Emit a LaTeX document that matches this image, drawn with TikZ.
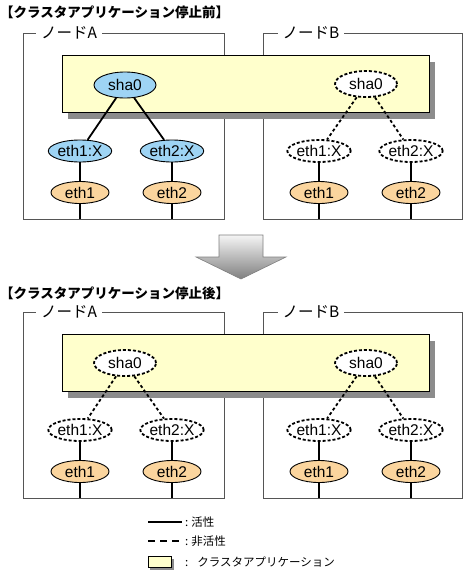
\documentclass[tikz,border=0pt]{standalone}
\usepackage{fontspec}
\setmainfont{Liberation Sans}
\newfontfamily\jp{Noto Sans CJK JP}
\usetikzlibrary{shapes.geometric}
\definecolor{actblue}{HTML}{9ED4F4}
\definecolor{ethorange}{HTML}{FBD59E}
\definecolor{appyellow}{HTML}{FFFFCC}
\definecolor{shadowgray}{HTML}{8C8C8C}
\definecolor{boxgray}{HTML}{555555}
\tikzset{
  ifbase/.style={ellipse, draw=black, line width=0.9pt, minimum width=58pt, minimum height=22pt, inner sep=0pt, font=\fontsize{15.5}{15.5}\selectfont},
  shanode/.style={ifbase, minimum width=62pt, minimum height=26pt},
  actfill/.style={fill=actblue},
  inact/.style={fill=white, line width=1.8pt, dash pattern=on 3pt off 2pt},
  ethnode/.style={ifbase, fill=ethorange},
  solidcon/.style={line width=1.8pt},
  dashcon/.style={line width=1.8pt, dash pattern=on 3pt off 2.5pt},
  nodebox/.style={draw=boxgray, line width=1pt},
  boxlabel/.style={fill=white, inner xsep=5pt, inner ysep=1pt, font=\jp\fontsize{15.5}{15.5}\selectfont},
  titletext/.style={anchor=west, inner sep=0pt, font=\jp\bfseries\fontsize{13.5}{13.5}\selectfont},
  appbox/.style={draw=black, line width=1pt, fill=appyellow},
  appshadow/.style={fill=shadowgray},
  legtext/.style={anchor=west, inner sep=0pt, font=\jp\fontsize{11.5}{11.5}\selectfont},
}
\begin{document}
\begin{tikzpicture}[x=1pt,y=-1pt]
\useasboundingbox (0,0) rectangle (465,570);
% ---------- before ----------
\begin{scope}[name prefix=t-]
\node[titletext] (title) at (0,12) {【クラスタアプリケーション停止前】};
\draw[nodebox] (23,33) rectangle (224,219);
\draw[nodebox] (263,33) rectangle (462,219);
\node[boxlabel] (la) at (69,33) {ノードA};
\node[boxlabel] (lb) at (311,33) {ノードB};
\fill[appshadow] (68,62) rectangle (435,119);
\draw[appbox] (62,55) rectangle (429,112);
\node[shanode, actfill] (shaA) at (125,85) {sha0};
\node[ifbase, actfill] (x1A) at (80,151) {eth1:X};
\node[ifbase, actfill] (x2A) at (172,151) {eth2:X};
\node[ethnode] (e1A) at (80,192.5) {eth1};
\node[ethnode] (e2A) at (172,192.5) {eth2};
\coordinate (b1A) at (80,219);
\coordinate (b2A) at (172,219);
\draw[solidcon] (shaA) -- (x1A);
\draw[solidcon] (shaA) -- (x2A);
\draw[solidcon] (x1A) -- (e1A);
\draw[solidcon] (x2A) -- (e2A);
\draw[solidcon] (e1A) -- (b1A);
\draw[solidcon] (e2A) -- (b2A);
\node[shanode, inact] (shaB) at (366,84) {sha0};
\node[ifbase, inact] (x1B) at (319,151) {eth1:X};
\node[ifbase, inact] (x2B) at (411,151) {eth2:X};
\node[ethnode] (e1B) at (319,192.5) {eth1};
\node[ethnode] (e2B) at (411,192.5) {eth2};
\coordinate (b1B) at (319,219);
\coordinate (b2B) at (411,219);
\draw[dashcon] (shaB) -- (x1B);
\draw[dashcon] (shaB) -- (x2B);
\draw[solidcon] (x1B) -- (e1B);
\draw[solidcon] (x2B) -- (e2B);
\draw[solidcon] (e1B) -- (b1B);
\draw[solidcon] (e2B) -- (b2B);
\end{scope}
% ---------- arrow ----------
\shade[draw=gray, line width=0.6pt, top color=white!96!black, bottom color=black!50]
  (219,235) -- (263,235) -- (263,257) -- (286,257) -- (241,279) -- (196,257) -- (219,257) -- cycle;
% ---------- after ----------
\begin{scope}[name prefix=b-, yshift=-279pt]
\node[titletext] (title) at (0,14) {【クラスタアプリケーション停止後】};
\draw[nodebox] (23,33) rectangle (224,219);
\draw[nodebox] (263,33) rectangle (462,219);
\node[boxlabel] (la) at (69,33) {ノードA};
\node[boxlabel] (lb) at (311,33) {ノードB};
\fill[appshadow] (68,62) rectangle (435,119);
\draw[appbox] (62,55) rectangle (429,112);
\node[shanode, inact] (shaA) at (125,84) {sha0};
\node[ifbase, inact] (x1A) at (80,151) {eth1:X};
\node[ifbase, inact] (x2A) at (172,151) {eth2:X};
\node[ethnode] (e1A) at (80,192.5) {eth1};
\node[ethnode] (e2A) at (172,192.5) {eth2};
\coordinate (b1A) at (80,219);
\coordinate (b2A) at (172,219);
\draw[dashcon] (shaA) -- (x1A);
\draw[dashcon] (shaA) -- (x2A);
\draw[solidcon] (x1A) -- (e1A);
\draw[solidcon] (x2A) -- (e2A);
\draw[solidcon] (e1A) -- (b1A);
\draw[solidcon] (e2A) -- (b2A);
\node[shanode, inact] (shaB) at (366,84) {sha0};
\node[ifbase, inact] (x1B) at (319,151) {eth1:X};
\node[ifbase, inact] (x2B) at (411,151) {eth2:X};
\node[ethnode] (e1B) at (319,192.5) {eth1};
\node[ethnode] (e2B) at (411,192.5) {eth2};
\coordinate (b1B) at (319,219);
\coordinate (b2B) at (411,219);
\draw[dashcon] (shaB) -- (x1B);
\draw[dashcon] (shaB) -- (x2B);
\draw[solidcon] (x1B) -- (e1B);
\draw[solidcon] (x2B) -- (e2B);
\draw[solidcon] (e1B) -- (b1B);
\draw[solidcon] (e2B) -- (b2B);
\end{scope}
% ---------- legend ----------
\coordinate (ls1) at (148,522);
\coordinate (ls2) at (182,522);
\draw[line width=1.8pt] (ls1) -- (ls2);
\node[legtext] (lt1) at (185,522) {:\hspace{3pt}活性};
\coordinate (ld1) at (148,541);
\coordinate (ld2) at (182,541);
\draw[line width=1.8pt, dash pattern=on 7pt off 5pt] (ld1) -- (ld2);
\node[legtext] (lt2) at (185,541) {:\hspace{3pt}非活性};
\fill[appshadow] (150,559) rectangle (174,570);
\draw[appbox, line width=0.8pt] (148,556) rectangle (171,567);
\node[legtext] (lt3) at (185,562) {:\hspace{9pt}クラスタアプリケーション};
\end{tikzpicture}
\end{document}
